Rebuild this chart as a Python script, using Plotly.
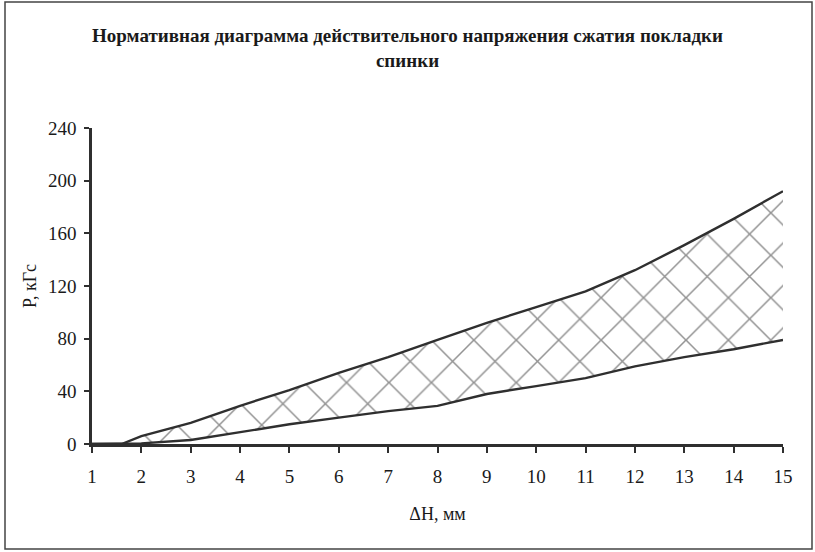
import plotly.graph_objects as go

x_mm = [1, 1.6, 2, 3, 4, 5, 6, 7, 8, 9, 10, 11, 12, 13, 14, 15]
upper_kgf = [0, 0, 6, 16, 29, 41, 54, 66, 79, 92, 104, 116, 132, 151, 171, 192]
lower_kgf = [0, 0, 0.5, 3, 9, 15, 20, 25, 29, 38, 44, 50, 59, 66, 72, 79]
x_ticks = list(range(1, 16))
y_ticks = [0, 40, 80, 120, 160, 200, 240]

title_text = "Нормативная диаграмма действительного напряжения сжатия покладки<br>спинки"
x_title = "ΔH, мм"
y_title = "P, кГс"

FONT = "Liberation Serif"
LINE = "#2f2f2f"
TXT = "#1a1a1a"

fig = go.Figure()
fig.add_trace(go.Scatter(x=x_mm, y=lower_kgf, mode="lines",
                         line=dict(color=LINE, width=2.4), showlegend=False))
fig.add_trace(go.Scatter(x=x_mm, y=upper_kgf, mode="lines",
                         line=dict(color=LINE, width=2.4), showlegend=False,
                         fill="tonexty", fillcolor="white",
                         fillpattern=dict(shape="x", size=30, solidity=0.1,
                                          fgcolor="#262626", bgcolor="white")))

W, H = 815, 552
ml, mr, mt, mb = 92, 32, 128, 108
pw, ph = W - ml - mr, H - mt - mb

def px_x(p):
    return (p - ml) / pw

def px_y(p):
    return (H - mb - p) / ph

fig.update_layout(
    width=W, height=H,
    margin=dict(l=ml, r=mr, t=mt, b=mb),
    paper_bgcolor="white", plot_bgcolor="white",
    font=dict(family=FONT, color=TXT, size=18),
    title=dict(text="<b>" + title_text + "</b>", x=0.5, xref="container", xanchor="center",
               y=1 - 42 / H, yanchor="top",
               font=dict(family=FONT, size=19, color=TXT)),
    xaxis=dict(range=[1, 15], tickvals=x_ticks, ticks="outside", ticklen=6,
               tickwidth=2, tickcolor=LINE, showline=True, linewidth=2.5,
               linecolor=LINE, showgrid=False, zeroline=False, automargin=False,
               ticklabelstandoff=7,
               title=dict(text=x_title, standoff=22, font=dict(size=18)),
               tickfont=dict(size=19)),
    yaxis=dict(range=[0, 240], tickvals=y_ticks, ticks="outside", ticklen=5,
               tickwidth=2, tickcolor=LINE, showline=True, linewidth=2.5,
               linecolor=LINE, showgrid=False, zeroline=False, automargin=False,
               ticklabelstandoff=4,
               title=dict(text=y_title, standoff=7, font=dict(size=18)),
               tickfont=dict(size=19)),
    shapes=[dict(type="rect", xref="paper", yref="paper",
                 x0=px_x(5), x1=px_x(812), y0=px_y(549), y1=px_y(2),
                 line=dict(color="#444444", width=1.5))],
)

fig.write_html("out.html", config={"displayModeBar": False},
               post_script="document.body.style.margin='0px';")
